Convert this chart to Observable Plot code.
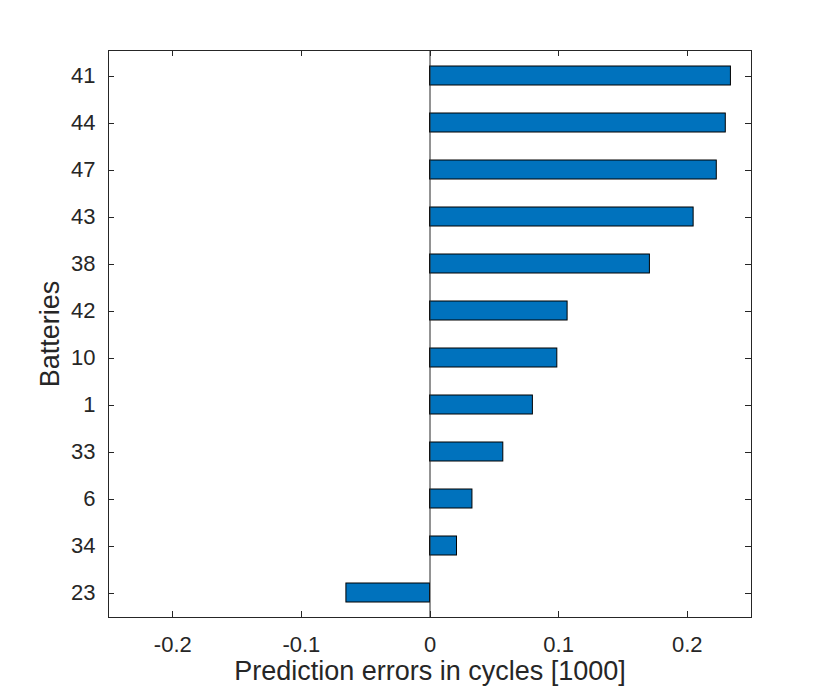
<!DOCTYPE html>
<html>
<head>
<meta charset="utf-8">
<script src="https://cdn.jsdelivr.net/npm/d3@7"></script>
<script src="https://cdn.jsdelivr.net/npm/@observablehq/plot@0.6"></script>
<style>
  html, body { margin: 0; padding: 0; background: #fff; }
  svg { font-family: "Liberation Sans", Arial, Helvetica, sans-serif; }
</style>
</head>
<body>
<div id="chart"></div>
<script>
const batteries = ["41", "44", "47", "43", "38", "42", "10", "1", "33", "6", "34", "23"];
const errors = [0.234, 0.230, 0.223, 0.205, 0.171, 0.107, 0.099, 0.080, 0.057, 0.033, 0.021, -0.065];
const xTicks = [-0.2, -0.1, 0, 0.1, 0.2];
const xTickLabels = ["-0.2", "-0.1", "0", "0.1", "0.2"];

const data = batteries.map((b, i) => ({battery: b, error: errors[i]}));
const ink = "#262626";

const innerTicks = (index, scales, values, dims) => {
  const g = d3.create("svg:g").attr("stroke", ink).attr("stroke-width", 1);
  const top = dims.marginTop, bottom = dims.height - dims.marginBottom;
  const left = dims.marginLeft, right = dims.width - dims.marginRight;
  const L = 6;
  for (const t of xTicks) {
    const x = Math.round(scales.x(t)) + 0.5;
    g.append("line").attr("x1", x).attr("x2", x).attr("y1", top).attr("y2", top + L);
    g.append("line").attr("x1", x).attr("x2", x).attr("y1", bottom).attr("y2", bottom - L);
  }
  const bw = scales.y.bandwidth ? scales.y.bandwidth() : 0;
  for (const b of batteries) {
    const y = Math.round(scales.y(b) + bw / 2) + 0.5;
    g.append("line").attr("x1", left).attr("x2", left + L).attr("y1", y).attr("y2", y);
    g.append("line").attr("x1", right).attr("x2", right - L).attr("y1", y).attr("y2", y);
  }
  return g.node();
};

const chart = Plot.plot({
  width: 830,
  height: 691,
  marginLeft: 108,
  marginRight: 79,
  marginTop: 50,
  marginBottom: 74,
  style: {fontFamily: "'Liberation Sans', Arial, sans-serif", background: "#fff"},
  x: {domain: [-0.25, 0.25]},
  y: {domain: batteries, paddingInner: 0.6, paddingOuter: 0.3},
  marks: [
    Plot.barX(data, {x: "error", y: "battery", fill: "#0072BD", stroke: "#000", strokeWidth: 1}),
    Plot.ruleX([0], {stroke: ink, strokeWidth: 1}),
    Plot.frame({stroke: ink, strokeWidth: 1}),
    innerTicks,
    Plot.axisX({ticks: xTicks, tickFormat: (d, i) => xTickLabels[i], tickSize: 0, tickPadding: 19,
      fontSize: 22, color: ink, label: null}),
    Plot.axisY({tickSize: 0, tickPadding: 13, fontSize: 22, color: ink, label: null}),
    Plot.text(["Prediction errors in cycles [1000]"], {frameAnchor: "bottom", dy: 62, fontSize: 27, fill: ink}),
    Plot.text(["Batteries"], {frameAnchor: "left", textAnchor: "middle", dx: -58, rotate: -90, fontSize: 27, fill: ink})
  ]
});
document.getElementById("chart").appendChild(chart);
</script>
</body>
</html>
